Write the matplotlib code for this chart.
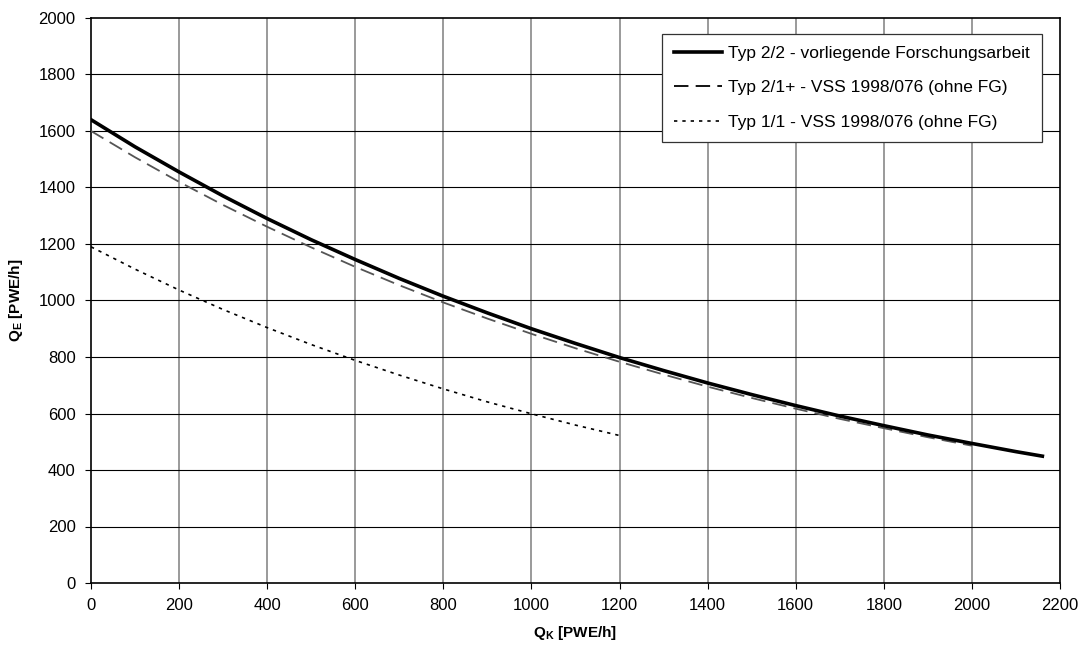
import matplotlib

matplotlib.use("Agg")
import matplotlib.pyplot as plt

plt.rcParams["font.family"] = ["Liberation Sans", "DejaVu Sans"]

# Typ 2/2 - vorliegende Forschungsarbeit
qk_22 = [0, 100, 200, 300, 400, 500, 600, 700, 800, 900, 1000, 1100,
         1200, 1300, 1400, 1500, 1600, 1700, 1800, 1900, 2000, 2100, 2160]
qe_22 = [1640, 1544, 1455, 1370, 1290, 1215, 1145, 1078, 1015, 956, 900, 848,
         798, 752, 708, 667, 628, 591, 557, 524, 494, 465, 449]

# Typ 2/1+ - VSS 1998/076 (ohne FG)
qk_21 = [0, 100, 200, 300, 400, 500, 600, 700, 800, 900, 1000, 1100,
         1200, 1300, 1400, 1500, 1600, 1700, 1800, 1900, 2000]
qe_21 = [1600, 1507, 1420, 1338, 1261, 1188, 1119, 1054, 993, 936, 882, 831,
         783, 738, 695, 655, 617, 581, 548, 516, 486]

# Typ 1/1 - VSS 1998/076 (ohne FG)
qk_11 = [0, 100, 200, 300, 400, 500, 600, 700, 800, 900, 1000, 1100, 1200]
qe_11 = [1190, 1111, 1037, 968, 904, 844, 788, 736, 687, 641, 599, 559, 522]

labels = [
    "Typ 2/2 - vorliegende Forschungsarbeit",
    "Typ 2/1+ - VSS 1998/076 (ohne FG)",
    "Typ 1/1 - VSS 1998/076 (ohne FG)",
]

fig = plt.figure(figsize=(10.78, 6.49), dpi=100)
ax = fig.add_axes([91 / 1078, 66 / 649, 969 / 1078, 565 / 649])

ax.plot(qk_22, qe_22, color="black", linewidth=2.6, label=labels[0], zorder=4)
ax.plot(qk_21, qe_21, color="#555555", linewidth=1.3, dashes=(8, 4), label=labels[1], zorder=3)
ax.plot(qk_11, qe_11, color="black", linewidth=1.2, dashes=(2, 3), label=labels[2], zorder=3)

ax.set_xlim(0, 2200)
ax.set_ylim(0, 2000)
ax.set_xticks(range(0, 2201, 200))
ax.set_yticks(range(0, 2001, 200))
ax.tick_params(labelsize=12, length=4, width=0.8, direction="out", pad=7)

for x in range(200, 2200, 200):
    ax.axvline(x, color="#7f7f7f", linewidth=1.1, zorder=1)
for y in range(200, 2000, 200):
    ax.axhline(y, color="black", linewidth=0.8, zorder=1)

for s in ax.spines.values():
    s.set_linewidth(1.2)

ax.set_xlabel(r"Q$_\mathregular{K}$ [PWE/h]", fontsize=11, fontweight="bold", labelpad=8)
ax.set_ylabel(r"Q$_\mathregular{E}$ [PWE/h]", fontsize=11, fontweight="bold", labelpad=10)

leg = ax.legend(loc="upper right", bbox_to_anchor=(0.981, 0.972), fontsize=12.5,
                frameon=True, fancybox=False, framealpha=1, edgecolor="#333333",
                handlelength=2.8, handletextpad=0.3, labelspacing=1.1, borderpad=0.7,
                borderaxespad=0)
leg.get_frame().set_linewidth(0.9)
for h in leg.get_lines():
    h.set_color("black")

fig.savefig("out.png", dpi=100)
plt.close(fig)
